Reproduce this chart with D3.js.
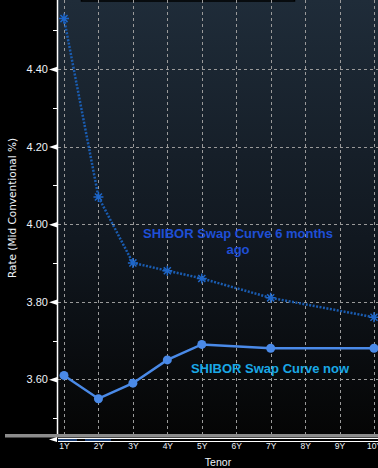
<!DOCTYPE html>
<html>
<head>
<meta charset="utf-8">
<script src="https://cdn.jsdelivr.net/npm/d3@7"></script>
<style>
  html, body { margin: 0; padding: 0; background: #000; }
  svg { display: block; }
</style>
</head>
<body>
<svg id="chart"></svg>
<script>
// tenors on the x axis
var tenors = ["1Y", "2Y", "3Y", "4Y", "5Y", "6Y", "7Y", "8Y", "9Y", "10Y"];
// tenors with a quote
var quoted = ["1Y", "2Y", "3Y", "4Y", "5Y", "7Y", "10Y"];
var curveNow = [3.61, 3.55, 3.59, 3.65, 3.69, 3.68, 3.68];
var curve6m = [4.53, 4.07, 3.90, 3.88, 3.86, 3.81, 3.76];
var yMajor = [3.6, 3.8, 4.0, 4.2, 4.4];
var yMinor = [3.5, 3.7, 3.9, 4.1, 4.3, 4.5];

var width = 378, height = 468;
var left = 58, bottom = 434;

var svg = d3.select("#chart").attr("width", width).attr("height", height);

var defs = svg.append("defs");
var grad = defs.append("linearGradient").attr("id", "bg")
    .attr("x1", 0).attr("y1", 0).attr("x2", 0).attr("y2", 1);
grad.append("stop").attr("offset", "0%").attr("stop-color", "#1f2c39");
grad.append("stop").attr("offset", "55%").attr("stop-color", "#111820");
grad.append("stop").attr("offset", "100%").attr("stop-color", "#050505");

var x = d3.scalePoint().domain(tenors).range([64, 374]);
var y = d3.scaleLinear().domain([3.6, 4.4]).range([379.3, 69]);

// plot background
svg.append("rect")
    .attr("x", left).attr("y", 0)
    .attr("width", width - left).attr("height", bottom)
    .attr("fill", "url(#bg)");

// cut-off legend box at top
svg.append("rect")
    .attr("x", 81.5).attr("y", -10)
    .attr("width", 213).attr("height", 11)
    .attr("fill", "none").attr("stroke", "#000").attr("stroke-width", 1.5);

// grid
var grid = svg.append("g").attr("stroke", "#9a9a9a").attr("stroke-width", 1)
    .attr("stroke-dasharray", "3,3");
grid.selectAll("line.v").data(tenors).enter().append("line")
    .attr("x1", function(d) { return Math.round(x(d)) + 0.5; })
    .attr("x2", function(d) { return Math.round(x(d)) + 0.5; })
    .attr("y1", 0).attr("y2", bottom);
grid.selectAll("line.h").data(yMajor).enter().append("line")
    .attr("x1", left).attr("x2", width)
    .attr("y1", function(d) { return Math.round(y(d)) + 0.5; })
    .attr("y2", function(d) { return Math.round(y(d)) + 0.5; });

// y axis
var yAxis = d3.axisLeft(y).tickValues(yMajor).tickSize(0).tickPadding(10)
    .tickFormat(d3.format(".2f"));
var gy = svg.append("g").attr("transform", "translate(" + left + ",0)").call(yAxis);
gy.select(".domain").remove();
gy.selectAll("text")
    .attr("fill", "#eef3f8")
    .style("font-family", "Liberation Sans, Arial, sans-serif")
    .style("font-size", "11px");
gy.selectAll(".tick").append("path")
    .attr("d", "M-9,0 L0,-3 L0,3 Z")
    .attr("fill", "#fff");
svg.append("g").selectAll("line").data(yMinor).enter().append("line")
    .attr("x1", left - 5).attr("x2", left)
    .attr("y1", function(d) { return Math.round(y(d)) + 0.5; })
    .attr("y2", function(d) { return Math.round(y(d)) + 0.5; })
    .attr("stroke", "#fff").attr("stroke-width", 1);
svg.append("line")
    .attr("x1", left - 0.5).attr("x2", left - 0.5)
    .attr("y1", 0).attr("y2", bottom)
    .attr("stroke", "#fff").attr("stroke-width", 1.5);

// bottom bar / scroll strip
svg.append("rect").attr("x", 5).attr("y", bottom).attr("width", width - 5).attr("height", 3.5)
    .attr("fill", "#8c8c8c");
svg.append("line").attr("x1", left).attr("x2", width).attr("y1", 438.5).attr("y2", 438.5)
    .attr("stroke", "#fff");
svg.append("line").attr("x1", left).attr("x2", width).attr("y1", 441.5).attr("y2", 441.5)
    .attr("stroke", "#fff");
svg.append("line").attr("x1", left).attr("x2", 77).attr("y1", 440).attr("y2", 440)
    .attr("stroke", "#2a6fd6");
svg.append("line").attr("x1", 85).attr("x2", 111).attr("y1", 440).attr("y2", 440)
    .attr("stroke", "#2a6fd6");
svg.append("path").attr("d", "M49,439.5 L57,437 L57,442 Z").attr("fill", "#fff");

// x axis labels
var xAxis = d3.axisBottom(x).tickSize(0).tickPadding(0);
var gx = svg.append("g").attr("transform", "translate(0,443)").call(xAxis);
gx.select(".domain").remove();
gx.selectAll("text")
    .attr("fill", "#eef3f8")
    .style("font-family", "Liberation Sans, Arial, sans-serif")
    .style("font-size", "8.5px");

// axis titles
svg.append("text").text("Tenor")
    .attr("x", 218).attr("y", 466)
    .attr("text-anchor", "middle")
    .attr("fill", "#eef3f8")
    .style("font-family", "Liberation Sans, Arial, sans-serif")
    .style("font-size", "10.5px");
svg.append("text").text("Rate (Mid Conventional %)")
    .attr("transform", "translate(16,208) rotate(-90)")
    .attr("text-anchor", "middle")
    .attr("fill", "#eef3f8")
    .style("font-family", "DejaVu Sans, sans-serif")
    .style("font-size", "10.5px");

// series
var pts6m = quoted.map(function(t, i) { return [x(t), y(curve6m[i])]; });
var ptsNow = quoted.map(function(t, i) { return [x(t), y(curveNow[i])]; });
var line = d3.line();

svg.append("path").attr("d", line(pts6m))
    .attr("fill", "none").attr("stroke", "#1a5cb0")
    .attr("stroke-width", 2.5).attr("stroke-dasharray", "2,1.5");

var star = {
  draw: function(ctx, size) {
    var r = Math.sqrt(size) / 2;
    var k = r * Math.SQRT1_2;
    ctx.moveTo(-r, 0); ctx.lineTo(r, 0);
    ctx.moveTo(0, -r); ctx.lineTo(0, r);
    ctx.moveTo(-k, -k); ctx.lineTo(k, k);
    ctx.moveTo(-k, k); ctx.lineTo(k, -k);
  }
};
svg.append("g").selectAll("path").data(pts6m).enter().append("path")
    .attr("transform", function(d) { return "translate(" + d[0] + "," + d[1] + ")"; })
    .attr("d", d3.symbol().type(star).size(100))
    .attr("fill", "none").attr("stroke", "#1e66c8").attr("stroke-width", 1.5);

svg.append("path").attr("d", line(ptsNow))
    .attr("fill", "none").attr("stroke", "#4a8ae8").attr("stroke-width", 2.5);
svg.append("g").selectAll("circle").data(ptsNow).enter().append("circle")
    .attr("cx", function(d) { return d[0]; })
    .attr("cy", function(d) { return d[1]; })
    .attr("r", 4.5).attr("fill", "#4a8ae8");

// annotations
var note = svg.append("text")
    .attr("text-anchor", "middle")
    .attr("fill", "#1f4fd6")
    .style("font-family", "Liberation Sans, Arial, sans-serif")
    .style("font-size", "13px").style("font-weight", "bold");
note.append("tspan").attr("x", 238).attr("y", 238).text("SHIBOR Swap Curve 6 months");
note.append("tspan").attr("x", 238).attr("y", 254).text("ago");

svg.append("text").text("SHIBOR Swap Curve now")
    .attr("x", 270).attr("y", 373)
    .attr("text-anchor", "middle")
    .attr("fill", "#1aa8e6")
    .style("font-family", "Liberation Sans, Arial, sans-serif")
    .style("font-size", "13px").style("font-weight", "bold");
</script>
</body>
</html>
